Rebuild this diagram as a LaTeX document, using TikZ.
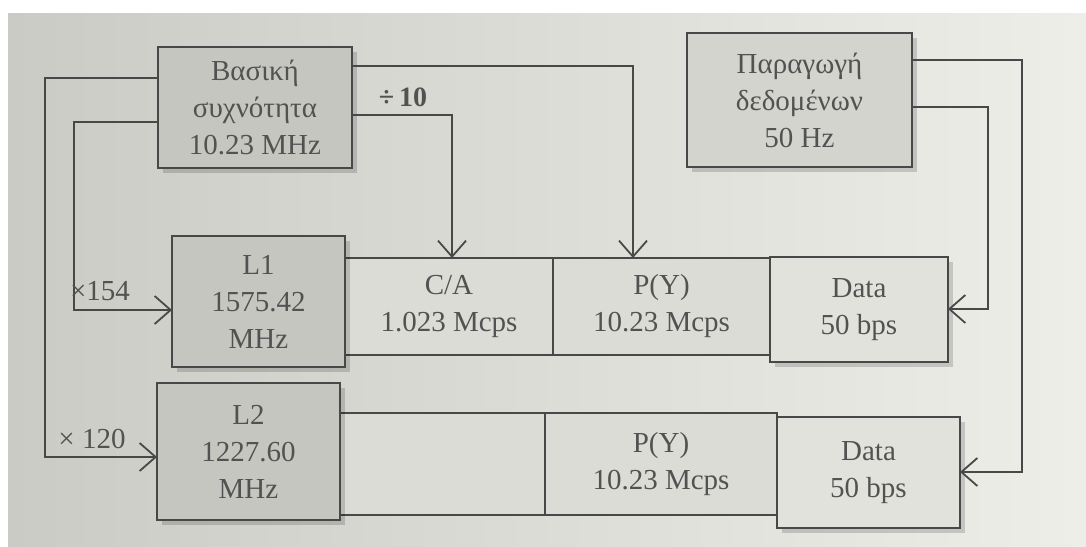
\documentclass[tikz,border=0pt]{standalone}
\usepackage{fontspec}
\setmainfont{Liberation Serif}
\usetikzlibrary{arrows.meta,shadows}
\definecolor{paperL}{RGB}{203,203,198}
\definecolor{paperR}{RGB}{238,238,233}
\definecolor{boxfill}{RGB}{198,198,193}
\definecolor{boxfillB}{RGB}{212,212,207}
\definecolor{cellfill}{RGB}{220,220,215}
\definecolor{datafill}{RGB}{226,226,221}
\definecolor{ink}{RGB}{72,72,72}
\definecolor{txt}{RGB}{82,82,82}
\tikzset{
  base/.style={draw=ink, line width=2pt, inner sep=0pt, outer sep=0pt, align=center,
    text=txt, font=\fontsize{29}{37}\selectfont},
  mainbox/.style={base, fill=boxfill,
    drop shadow={shadow xshift=5pt, shadow yshift=-5pt, fill=black, opacity=.16}},
  cellbox/.style={base, fill=cellfill},
  databox/.style={base, fill=datafill,
    drop shadow={shadow xshift=5pt, shadow yshift=-5pt, fill=black, opacity=.16}},
  conn/.style={draw=ink, line width=1.8pt, line join=miter},
  arr/.style={conn, -{Straight Barb[length=16pt, width=28pt, line width=1.8pt]}},
  lbl/.style={text=txt, inner sep=0pt, font=\fontsize{29}{34}\selectfont},
}
\begin{document}
\begin{tikzpicture}[x=1pt,y=-1pt]
\useasboundingbox (0,0) rectangle (1086,546);
\fill[white] (0,0) rectangle (1086,546);
\shade[left color=paperL, right color=paperR] (8,13) rectangle (1086,546);

% strip cells (drawn first)
\node[cellbox, minimum width=208pt, minimum height=97pt] (CA1) at (449,306.5) {C/A\\1.023 Mcps};
\node[cellbox, minimum width=217pt, minimum height=97pt] (PY1) at (661.5,306.5) {P(Y)\\10.23 Mcps};
\node[databox, minimum width=178pt, minimum height=105pt] (D1) at (859,309.5) {Data\\50 bps};
\node[cellbox, minimum width=205pt, minimum height=102pt] (E2) at (442.5,464) {};
\node[cellbox, minimum width=232pt, minimum height=102pt] (PY2) at (661,464) {P(Y)\\10.23 Mcps};
\node[databox, minimum width=183pt, minimum height=111pt] (D2) at (868.5,472.5) {Data\\50 bps};

% main boxes
\node[mainbox, minimum width=194pt, minimum height=121pt] (bf) at (255,107.5) {Βασική\\συχνότητα\\10.23 MHz};
\node[mainbox, fill=boxfillB, minimum width=225pt, minimum height=134pt] (dg) at (799.5,100) {Παραγωγή\\δεδομένων\\50 Hz};
\node[mainbox, minimum width=173pt, minimum height=131pt] (L1) at (258.5,301.5) {L1\\1575.42\\MHz};
\node[mainbox, minimum width=183pt, minimum height=137pt] (L2) at (248.5,451.5) {L2\\1227.60\\MHz};

% connectors
\draw[arr] (bf.west |- 0,78) -- (45,78) -- (45,457) -- (L2.west |- 0,457);
\draw[arr] (bf.west |- 0,122) -- (74,122) -- (74,310) -- (L1.west |- 0,310);
\draw[arr] (bf.east |- 0,66) -- (633,66) -- (PY1.north -| 633,0);
\draw[arr] (bf.east |- 0,115) -- (452,115) -- (CA1.north -| 452,0);
\draw[arr] (dg.east |- 0,60) -- (1022,60) -- (1022,472) -- (D2.east |- 0,472);
\draw[arr] (dg.east |- 0,107) -- (988,107) -- (988,309) -- (D1.east |- 0,309);

% labels
\node[lbl] (m154) at (100,291) {×154};
\node[lbl] (m120) at (92,439) {× 120};
\node[lbl, font=\bfseries\fontsize{28}{34}\selectfont] (d10) at (403,97) {÷\,10};
\end{tikzpicture}
\end{document}
